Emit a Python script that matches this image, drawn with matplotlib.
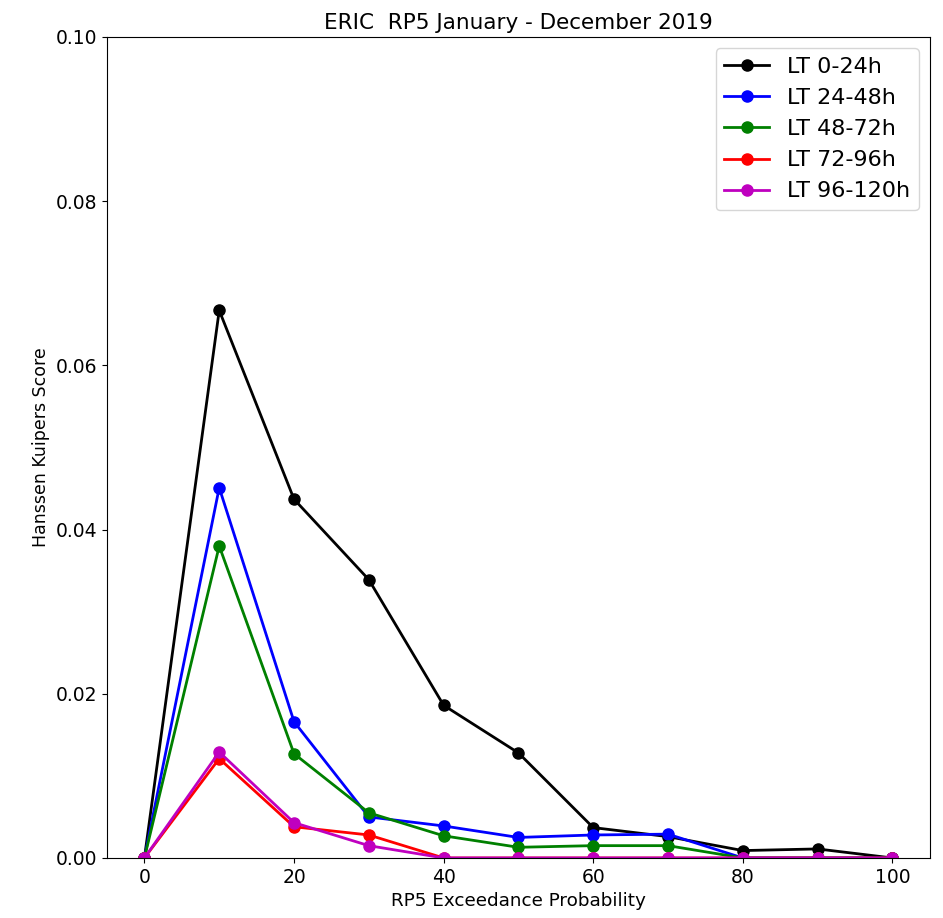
import matplotlib
matplotlib.use('Agg')
import matplotlib.pyplot as plt

# Exceedance probability thresholds (%)
prob = [0, 10, 20, 30, 40, 50, 60, 70, 80, 90, 100]

# Hanssen Kuipers score per lead time
lt_0_24 = [0, 0.0667, 0.0437, 0.0339, 0.0186, 0.0128, 0.0037, 0.0026, 0.0009, 0.0011, 0]
lt_24_48 = [0, 0.0451, 0.0166, 0.0050, 0.0039, 0.0025, 0.0028, 0.0029, 0, 0, 0]
lt_48_72 = [0, 0.0380, 0.0127, 0.0055, 0.0027, 0.0013, 0.0015, 0.0015, 0, 0, 0]
lt_72_96 = [0, 0.0121, 0.0038, 0.0028, 0, 0, 0, 0, 0, 0, 0]
lt_96_120 = [0, 0.0129, 0.0043, 0.0015, 0, 0, 0, 0, 0, 0, 0]

labels = ['LT 0-24h', 'LT 24-48h', 'LT 48-72h', 'LT 72-96h', 'LT 96-120h']
colors = ['k', 'b', 'g', 'r', 'm']
series = [lt_0_24, lt_24_48, lt_48_72, lt_72_96, lt_96_120]

fig = plt.figure(figsize=(9.43, 9.18), dpi=100)
ax = fig.add_axes([0.1135, 0.0654, 0.8725, 0.8943])

for vals, c, lab in zip(series, colors, labels):
    ax.plot(prob, vals, color=c, marker='o', markersize=8, linewidth=2, label=lab)

ax.set_ylim(0, 0.1)
ax.set_xlim(-5, 105)
ax.set_xticks([0, 20, 40, 60, 80, 100])
ax.set_yticks([0, 0.02, 0.04, 0.06, 0.08, 0.10])
ax.yaxis.set_major_formatter(plt.FormatStrFormatter('%.2f'))
ax.tick_params(labelsize=13.5)
ax.set_title('ERIC  RP5 January - December 2019', fontsize=15.5)
ax.set_xlabel('RP5 Exceedance Probability', fontsize=13.2)
ax.set_ylabel('Hanssen Kuipers Score', fontsize=12.5)
ax.legend(loc='upper right', fontsize=16)

fig.savefig('out.png', dpi=100)
